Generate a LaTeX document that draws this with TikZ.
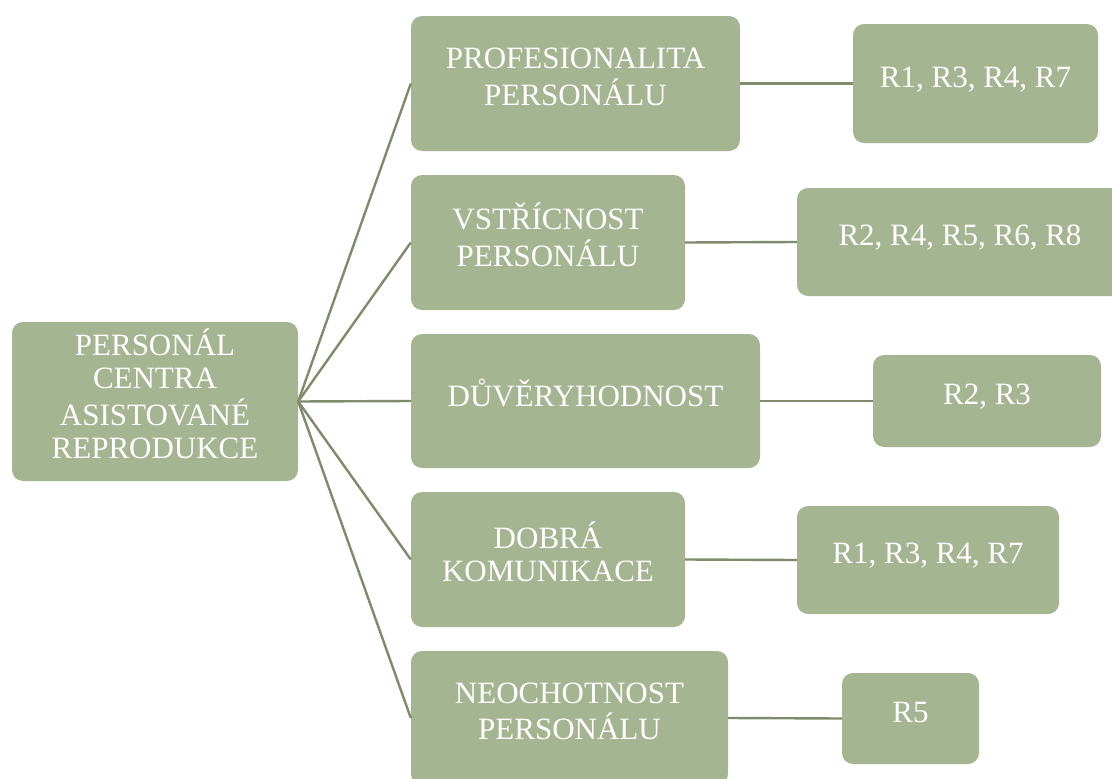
\documentclass[tikz,border=0pt]{standalone}
\usepackage{fontspec}
\setmainfont{Liberation Serif}
% raise the label a little above the geometric centre of its box
\newcommand{\boxtext}[1]{\raisebox{3pt}[\height][\depth]{\begin{tabular}{@{}c@{}}#1\end{tabular}}}
\begin{document}
\begin{tikzpicture}[x=1pt,y=-1pt,
  box/.style={draw=none,fill=boxgreen,rounded corners=11pt,inner sep=0pt,
    text=white,align=center,font=\fontsize{31}{33}\selectfont},
  link/.style={draw=linkgreen,line width=2.4pt}]
\definecolor{boxgreen}{HTML}{A5B592}
\definecolor{linkgreen}{HTML}{7F8B6B}
\useasboundingbox (0,0) rectangle (1112,779);
\clip (0,0) rectangle (1112,779);
% root
\node[box,minimum width=286pt,minimum height=159pt] (root) at (155,401.5)
  {\boxtext{PERSONÁL\\CENTRA\\ASISTOVANÉ\\REPRODUKCE}};
% categories
\node[box,minimum width=329pt,minimum height=135pt] (b1) at (575.5,83.5)
  {\boxtext{PROFESIONALITA\\PERSONÁLU}};
\node[box,minimum width=274pt,minimum height=135pt] (b2) at (548,242.5)
  {\boxtext{VSTŘÍCNOST\\PERSONÁLU}};
\node[box,minimum width=349pt,minimum height=134pt] (b3) at (585.5,401)
  {\boxtext{DŮVĚRYHODNOST}};
\node[box,minimum width=274pt,minimum height=135pt] (b4) at (548,559.5)
  {\boxtext{DOBRÁ\\KOMUNIKACE}};
\node[box,minimum width=317pt,minimum height=134pt] (b5) at (569.5,718)
  {\boxtext{NEOCHOTNOST\\PERSONÁLU}};
% respondents
\node[box,minimum width=245pt,minimum height=119pt] (r1) at (975.5,83.5)
  {\boxtext{R1, R3, R4, R7}};
\node[box,minimum width=326pt,minimum height=108pt] (r2) at (960,242)
  {\boxtext{R2, R4, R5, R6, R8}};
\node[box,minimum width=228pt,minimum height=92pt] (r3) at (987,401)
  {\boxtext{R2, R3}};
\node[box,minimum width=262pt,minimum height=108pt] (r4) at (928,560)
  {\boxtext{R1, R3, R4, R7}};
\node[box,minimum width=137pt,minimum height=91pt] (r5) at (910.5,718.5)
  {\boxtext{R5}};
% connectors
\foreach \b in {b1,b2,b3,b4,b5}
  \draw[link] (root.east) -- (\b.west);
\foreach \b/\r in {b1/r1,b2/r2,b3/r3,b4/r4,b5/r5}
  \draw[link] (\b.east) -- (\r.west);
\end{tikzpicture}
\end{document}
